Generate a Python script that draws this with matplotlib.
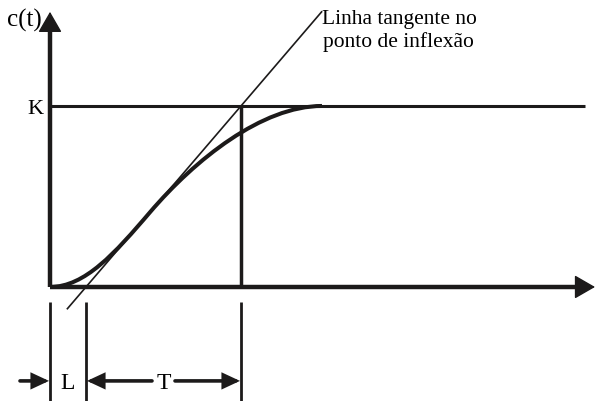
import numpy as np
import matplotlib
matplotlib.use("Agg")
import matplotlib.pyplot as plt
from matplotlib.path import Path
import matplotlib.patches as mpatches

# process reaction curve parameters (c in units of K)
K = 1.0
L = 0.36
T = 1.55
t_inflex = 1.0
t_flat = 2.72
t_axis_end = 5.45
c_axis_end = 1.52

# bezier handles for the S curve
handle_start = 0.35
handle_inflex_in = 0.35
handle_inflex_out = 0.45
handle_end = 0.60

ink = "#1c1a1a"
plt.rcParams["font.family"] = ["Liberation Serif", "DejaVu Serif"]
plt.rcParams["font.size"] = 16

fig = plt.figure(figsize=(5.96, 4.02), dpi=100)
ax = fig.add_axes([0, 0, 1, 1])
ax.set_xlim(-0.50, 5.46)
ax.set_ylim(-0.630, 1.591)
ax.axis("off")

slope = K / T
c_inflex = slope * (t_inflex - L)

# axes with arrow heads
ax.plot([0, 0], [0, c_axis_end - 0.08], color=ink, lw=3.2, solid_capstyle="butt")
ax.plot([0, t_axis_end - 0.15], [0, 0], color=ink, lw=3.2, solid_capstyle="butt")
ax.annotate("", xy=(0, c_axis_end), xytext=(0, c_axis_end - 0.12),
            arrowprops=dict(arrowstyle="-|>,head_length=13,head_width=7.5", mutation_scale=1,
                            lw=1, color=ink, shrinkA=0, shrinkB=0))
ax.annotate("", xy=(t_axis_end, 0), xytext=(t_axis_end - 0.2, 0),
            arrowprops=dict(arrowstyle="-|>,head_length=13,head_width=7.5", mutation_scale=1,
                            lw=1, color=ink, shrinkA=0, shrinkB=0))

# K level and vertical at L+T
ax.plot([0, 5.35], [K, K], color=ink, lw=2.2, solid_capstyle="butt")
ax.plot([L + T, L + T], [0, K], color=ink, lw=2.5, solid_capstyle="butt")

# tangent at inflection point
c_tan = np.array([-0.12, c_axis_end])
ax.plot(L + c_tan * T, c_tan, color=ink, lw=1.2)

# S shaped response
verts = [(0, 0),
         (handle_start, 0),
         (t_inflex - handle_inflex_in, c_inflex - slope * handle_inflex_in),
         (t_inflex, c_inflex),
         (t_inflex + handle_inflex_out, c_inflex + slope * handle_inflex_out),
         (t_flat - handle_end, K),
         (t_flat, K)]
codes = [Path.MOVETO] + [Path.CURVE4] * 6
curve = mpatches.PathPatch(Path(verts, codes), fill=False, edgecolor=ink, lw=2.9,
                           capstyle="butt")
ax.add_patch(curve)

# dimension lines for L and T
y_dim_top = -0.083
y_arrow = -0.519
for t in [0, L, L + T]:
    ax.plot([t, t], [y_dim_top, -0.64], color=ink, lw=2.0, solid_capstyle="butt")

arrow_kw = dict(arrowstyle="-|>,head_length=9,head_width=4.2", mutation_scale=1,
                lw=2.6, color=ink, shrinkA=0, shrinkB=0, joinstyle="miter")
ax.annotate("", xy=(-0.01, y_arrow), xytext=(-0.30, y_arrow), arrowprops=arrow_kw)
ax.annotate("", xy=(L + 0.01, y_arrow), xytext=(L + 0.66, y_arrow), arrowprops=arrow_kw)
ax.annotate("", xy=(L + T - 0.01, y_arrow), xytext=(L + 0.89, y_arrow), arrowprops=arrow_kw)
ax.text(L / 2, y_arrow - 0.04, "L", ha="center", va="baseline", fontsize=17)
ax.text(L + 0.775, y_arrow - 0.04, "T", ha="center", va="baseline", fontsize=17)

# labels
ax.text(-0.07, K - 0.04, "K", ha="right", va="baseline")
ax.text(-0.43, 1.445, "c(t)", ha="left", va="baseline", fontsize=18)
ax.text(2.72, 1.458, "Linha tangente no", ha="left", va="baseline", fontsize=15.5)
ax.text(2.73, 1.332, "ponto de inflexão", ha="left", va="baseline", fontsize=15.5)

plt.savefig("out.png", dpi=100)
